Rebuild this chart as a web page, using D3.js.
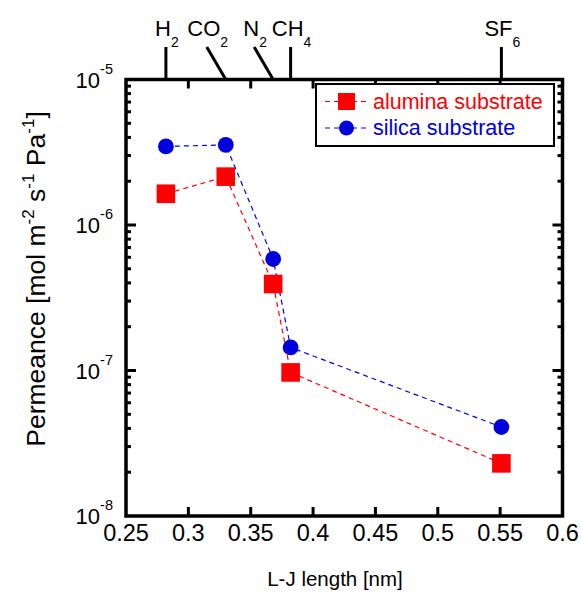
<!DOCTYPE html>
<html>
<head>
<meta charset="utf-8">
<script src="https://cdn.jsdelivr.net/npm/d3@7"></script>
<style>
  body { margin: 0; background: #fff; }
  svg { display: block; font-family: "Liberation Sans", Arial, sans-serif; }
</style>
</head>
<body>
<div id="chart"></div>
<script>
// L-J length of each gas [nm]
const gases = ["H2", "CO2", "N2", "CH4", "SF6"];
const ljLength = [0.282, 0.330, 0.368, 0.382, 0.551];

// permeance [mol m-2 s-1 Pa-1]
const alumina = [1.64e-6, 2.15e-6, 3.93e-7, 9.7e-8, 2.30e-8];
const silica = [3.47e-6, 3.55e-6, 5.84e-7, 1.44e-7, 4.09e-8];

const xTicks = [0.25, 0.3, 0.35, 0.4, 0.45, 0.5, 0.55, 0.6];
const yTicks = [1e-8, 1e-7, 1e-6, 1e-5];

// gas label: main part + subscript
const gasLabel = {H2: ["H", "2"], CO2: ["CO", "2"], N2: ["N", "2"], CH4: ["CH", "4"], SF6: ["SF", "6"]};
// leader lines that lean left to avoid crowding
const labelShift = {CO2: -19, N2: -19};

const W = 581, H = 592;
const pLeft = 126, pRight = 562.5, pTop = 79.5, pBottom = 516;

const svg = d3.select("#chart").append("svg")
    .attr("width", W)
    .attr("height", H);

const x = d3.scaleLinear().domain([0.25, 0.6]).range([pLeft, pRight]);
const y = d3.scaleLog().domain([1e-8, 1e-5]).range([pBottom, pTop]);

// minor log ticks
const minor = [];
for (let e = -8; e < -5; e++) {
    for (let k = 2; k <= 9; k++) minor.push(k * Math.pow(10, e));
}

const tickG = svg.append("g").attr("stroke", "#000").attr("stroke-width", 3);

// bottom and top ticks (inward)
xTicks.slice(1, -1).forEach(v => {
    tickG.append("line").attr("x1", x(v)).attr("x2", x(v)).attr("y1", pBottom).attr("y2", pBottom - 9);
    tickG.append("line").attr("x1", x(v)).attr("x2", x(v)).attr("y1", pTop).attr("y2", pTop + 9);
});
// left and right ticks
yTicks.slice(1, -1).forEach(v => {
    tickG.append("line").attr("x1", pLeft).attr("x2", pLeft + 10).attr("y1", y(v)).attr("y2", y(v));
    tickG.append("line").attr("x1", pRight).attr("x2", pRight - 10).attr("y1", y(v)).attr("y2", y(v));
});
minor.forEach(v => {
    tickG.append("line").attr("x1", pLeft).attr("x2", pLeft + 5).attr("y1", y(v)).attr("y2", y(v));
    tickG.append("line").attr("x1", pRight).attr("x2", pRight - 5).attr("y1", y(v)).attr("y2", y(v));
});

// frame
svg.append("rect")
    .attr("x", pLeft).attr("y", pTop)
    .attr("width", pRight - pLeft).attr("height", pBottom - pTop)
    .attr("fill", "none")
    .attr("stroke", "#000")
    .attr("stroke-width", 3.5);

// x tick labels
svg.append("g")
    .selectAll("text")
    .data(xTicks)
    .join("text")
    .attr("x", d => x(d))
    .attr("y", 541)
    .attr("text-anchor", "middle")
    .attr("font-size", "23.5px")
    .text(d => String(d));

// y tick labels 10^n
const yl = svg.append("g")
    .attr("transform", "translate(113,0)")
    .selectAll("text")
    .data(yTicks)
    .join("text")
    .attr("x", 0)
    .attr("y", d => y(d) + 8)
    .attr("text-anchor", "end")
    .attr("font-size", "22px");
yl.append("tspan").text("10");
yl.append("tspan").attr("dy", -14).attr("font-size", "14.5px").text(d => String(Math.round(Math.log10(d))));

// axis titles
svg.append("text")
    .attr("x", 335)
    .attr("y", 586)
    .attr("text-anchor", "middle")
    .attr("font-size", "20.5px")
    .text("L-J length [nm]");

const yt = svg.append("text")
    .attr("transform", "translate(45,279) rotate(-90)")
    .attr("text-anchor", "middle")
    .attr("font-size", "26.5px");
yt.append("tspan").text("Permeance [mol m");
yt.append("tspan").attr("dy", -11).attr("font-size", "17px").text("-2");
yt.append("tspan").attr("dy", 11).text(" s");
yt.append("tspan").attr("dy", -11).attr("font-size", "17px").text("-1");
yt.append("tspan").attr("dy", 11).text(" Pa");
yt.append("tspan").attr("dy", -11).attr("font-size", "17px").text("-1");
yt.append("tspan").attr("dy", 11).text("]");

// gas labels on top with leader lines
gases.forEach((g, i) => {
    const xb = x(ljLength[i]);
    const xt = xb + (labelShift[g] || 0);
    svg.append("line")
        .attr("x1", xb).attr("y1", pTop)
        .attr("x2", xt).attr("y2", 47)
        .attr("stroke", "#000")
        .attr("stroke-width", 3);
    const t = svg.append("text")
        .attr("x", xt + 1)
        .attr("y", 36)
        .attr("text-anchor", "middle")
        .attr("font-size", "22px");
    t.append("tspan").text(gasLabel[g][0]);
    t.append("tspan").attr("dy", 11).attr("font-size", "14px").text(gasLabel[g][1]);
});

// series
const line = d3.line()
    .x((d, i) => x(ljLength[i]))
    .y(d => y(d));

svg.append("path")
    .datum(alumina)
    .attr("fill", "none")
    .attr("stroke", "#ff0000")
    .attr("stroke-width", 1.2)
    .attr("stroke-dasharray", "5,4")
    .attr("d", line);

svg.append("path")
    .datum(silica)
    .attr("fill", "none")
    .attr("stroke", "#0000dd")
    .attr("stroke-width", 1.2)
    .attr("stroke-dasharray", "5,4")
    .attr("d", line);

svg.append("g")
    .selectAll("rect")
    .data(alumina)
    .join("rect")
    .attr("x", (d, i) => x(ljLength[i]) - 9.3)
    .attr("y", d => y(d) - 9.3)
    .attr("width", 18.6)
    .attr("height", 18.6)
    .attr("fill", "#ff0000");

svg.append("g")
    .selectAll("circle")
    .data(silica)
    .join("circle")
    .attr("cx", (d, i) => x(ljLength[i]))
    .attr("cy", d => y(d))
    .attr("r", 7.9)
    .attr("fill", "#0000dd");

// legend
const lg = svg.append("g");
lg.append("rect")
    .attr("x", 316).attr("y", 84)
    .attr("width", 238).attr("height", 62)
    .attr("fill", "#fff")
    .attr("stroke", "#000")
    .attr("stroke-width", 2);

lg.append("line").attr("x1", 325).attr("x2", 368).attr("y1", 101.5).attr("y2", 101.5)
    .attr("stroke", "#ff0000").attr("stroke-width", 1.2).attr("stroke-dasharray", "5,4");
lg.append("rect").attr("x", 338).attr("y", 93).attr("width", 17).attr("height", 17).attr("fill", "#ff0000");
lg.append("text").attr("x", 373).attr("y", 109).attr("font-size", "21.5px").attr("fill", "#ff0000").text("alumina substrate");

lg.append("line").attr("x1", 325).attr("x2", 368).attr("y1", 128).attr("y2", 128)
    .attr("stroke", "#0000dd").attr("stroke-width", 1.2).attr("stroke-dasharray", "5,4");
lg.append("circle").attr("cx", 346.5).attr("cy", 128).attr("r", 7.5).attr("fill", "#0000dd");
lg.append("text").attr("x", 373).attr("y", 135).attr("font-size", "21.5px").attr("fill", "#0000dd").text("silica substrate");
</script>
</body>
</html>
